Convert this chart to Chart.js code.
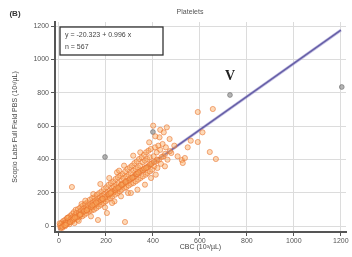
<!DOCTYPE html>
<html>
<head>
<meta charset="utf-8">
<script src="https://cdn.jsdelivr.net/npm/chart.js@4.4.1/dist/chart.umd.min.js"></script>
<style>
  html, body { margin: 0; padding: 0; background: #fff; }
  #wrap { width: 352px; height: 257px; position: relative; }
</style>
</head>
<body>
<div id="wrap"><canvas id="chart"></canvas></div>
<script>
const chartTitle = 'Platelets';
const panelLabel = '(B)';
const xTitle = 'CBC (10³/µL)';
const yTitle = 'Scopio Labs Full Field PBS (10³/µL)';
const fitText = ['y = -20.323 + 0.996 x', 'n = 567'];
const tickValues = [0, 200, 400, 600, 800, 1000, 1200];

// regression line end points
const fitX = [0, 1200];
const fitY = [-20.3, 1174.9];

// orange scatter (CBC, PBS)
const cbcValues = [
  4, 9, 11, 13, 17, 19, 21, 24, 27, 29, 31, 34, 36, 39, 41, 43, 46, 49, 51, 14, 26, 37, 44, 3, 7,
  53, 56, 57, 61, 63, 64, 69, 71, 73, 74, 79, 81, 83, 86, 87, 91, 93, 94, 99, 101, 55, 66, 84, 96,
  103, 104, 109, 111, 113, 116, 117, 121, 123, 124, 129, 131, 133, 134, 139, 141, 143, 144, 149, 151, 112, 136, 146,
  153, 154, 159, 161, 163, 164, 166, 169, 171, 173, 174, 179, 181, 183, 184, 189, 191, 193, 194, 199, 201, 204, 176, 196,
  203, 206, 207, 211, 213, 216, 217, 221, 223, 226, 227, 231, 233, 234, 239, 241, 243, 244, 249, 251, 214, 236, 247, 226,
  253, 254, 259, 261, 263, 266, 267, 271, 273, 274, 279, 282, 281, 284, 286, 287, 291, 293, 296, 297, 302, 264, 277, 294, 256,
  303, 306, 307, 311, 313, 316, 317, 321, 323, 326, 327, 331, 333, 336, 337, 341, 343, 346, 347, 352, 316, 334, 346, 306,
  353, 356, 357, 362, 364, 366, 369, 371, 373, 376, 377, 381, 383, 386, 387, 391, 396, 397, 366, 384, 392,
  403, 406, 409, 413, 416, 419, 423, 426, 431, 434, 441, 444, 451, 428, 412, 431, 446, 410, 459, 401,
  455, 462, 471, 478, 491, 505, 523, 527, 536, 548, 561, 591, 655, 591, 642, 668, 611,
  15, 23, 33, 47, 58, 63, 77, 88, 93, 107, 118, 123, 137, 148, 153, 167, 178, 183, 197, 208, 213, 227, 238,
  243, 257, 268, 273, 287, 298, 303, 317, 328, 333, 347, 358, 363, 377, 388, 393, 418, 437, 452, 472,
  28, 68, 118, 158, 186, 222, 252, 283, 312, 338, 371, 405, 89, 142, 219, 266
];
const pbsValues = [
  3, 14, -6, 22, 7, 31, 6, 17, 37, 9, 24, 47, 13, 32, 53, 22, 36, 62, 27, -11, -1, 49, 11, 16, -12,
  47, 72, 28, 57, 83, 41, 64, 97, 48, 77, 38, 102, 63, 82, 53, 112, 68, 92, 58, 122, 234, 18, 31, 132,
  83, 102, 68, 133, 93, 112, 78, 142, 98, 122, 88, 157, 103, 132, 93, 167, 113, 142, 98, 172, 152, 58, 192,
  123, 152, 108, 187, 133, 162, 36, 118, 197, 143, 172, 128, 207, 153, 182, 138, 222, 163, 192, 148, 232, 78, 252, 112,
  173, 202, 158, 247, 183, 212, 168, 257, 193, 227, 178, 267, 203, 237, 188, 282, 213, 247, 198, 292, 288, 148, 322, 138,
  223, 257, 208, 302, 238, 272, 218, 312, 248, 287, 228, 327, 24, 258, 297, 233, 342, 268, 307, 243, 352, 178, 362, 198, 332,
  278, 317, 253, 362, 288, 332, 258, 377, 298, 342, 268, 387, 313, 352, 278, 402, 323, 362, 288, 412, 422, 218, 442, 198,
  333, 382, 298, 427, 343, 392, 308, 442, 353, 402, 318, 452, 363, 412, 328, 462, 378, 338, 248, 502, 288,
  418, 358, 472, 388, 442, 348, 482, 398, 457, 373, 492, 418, 358, 532, 308, 577, 562, 538, 592, 602,
  472, 398, 522, 438, 482, 418, 396, 378, 408, 472, 512, 684, 702, 504, 444, 402, 562,
  -4, 4, 16, 24, 37, 45, 55, 70, 71, 89, 96, 104, 115, 130, 131, 148, 156, 164, 175, 190, 191, 208, 215,
  225, 234, 251, 252, 269, 275, 285, 294, 311, 312, 330, 335, 345, 354, 371, 372, 398, 414, 433, 449,
  6, 51, 94, 140, 163, 203, 230, 264, 290, 321, 348, 385, 66, 124, 197, 247
];

// grey outliers
const outlierX = [728, 1204, 196, 400];
const outlierY = [786, 834, 414, 564];
const markedPoint = { x: 728, y: 786, label: 'V' };

const fontFamily = '"Liberation Sans", Arial, sans-serif';

function toPoints(xs, ys) {
  return xs.map(function (x, i) { return { x: x, y: ys[i] }; });
}

const overlayPlugin = {
  id: 'overlay',
  afterDraw: function (chart) {
    const ctx = chart.ctx;
    const area = chart.chartArea;
    ctx.save();
    ctx.fillStyle = '#333';
    ctx.font = 'bold 8px ' + fontFamily;
    ctx.textAlign = 'center';
    ctx.textBaseline = 'middle';
    ctx.fillText(panelLabel, 15, 14);
    ctx.font = '7px ' + fontFamily;
    ctx.fillStyle = '#555';
    ctx.fillText(chartTitle, 190, 12);
    // equation box
    ctx.strokeStyle = '#333';
    ctx.lineWidth = 1.3;
    ctx.fillStyle = '#fff';
    ctx.fillRect(area.left + 5, area.top + 5, 103, 28);
    ctx.strokeRect(area.left + 5, area.top + 5, 103, 28);
    ctx.fillStyle = '#444';
    ctx.textAlign = 'left';
    ctx.font = '7px ' + fontFamily;
    ctx.fillText(fitText[0], area.left + 10, area.top + 13);
    ctx.fillText(fitText[1], area.left + 10, area.top + 25);
    // marked point label
    const px = chart.scales.x.getPixelForValue(markedPoint.x);
    const py = chart.scales.y.getPixelForValue(markedPoint.y);
    ctx.fillStyle = '#222';
    ctx.textAlign = 'center';
    ctx.font = 'bold 14px "Liberation Serif", "DejaVu Serif", serif';
    ctx.fillText(markedPoint.label, px, py - 19);
    ctx.restore();
  }
};

const ctx = document.getElementById('chart').getContext('2d');
const chart = new Chart(ctx, {
  type: 'scatter',
  data: {
    datasets: [
      {
        label: 'Samples',
        data: toPoints(cbcValues, pbsValues),
        pointRadius: 2.6,
        pointBackgroundColor: 'rgba(250,170,95,0.45)',
        pointBorderColor: 'rgba(232,110,40,0.7)',
        pointBorderWidth: 0.8
      },
      {
        label: 'Outliers',
        data: toPoints(outlierX, outlierY),
        pointRadius: 2.4,
        pointBackgroundColor: 'rgba(130,130,130,0.6)',
        pointBorderColor: 'rgba(110,110,110,0.8)',
        pointBorderWidth: 0.8
      },
      {
        type: 'line',
        label: 'Fit halo',
        data: toPoints(fitX, fitY),
        borderColor: 'rgba(150,140,205,0.55)',
        borderWidth: 3,
        pointRadius: 0,
        fill: false
      },
      {
        type: 'line',
        label: 'Fit',
        data: toPoints(fitX, fitY),
        borderColor: '#2e2a78',
        borderWidth: 1.6,
        pointRadius: 0,
        fill: false
      }
    ]
  },
  options: {
    responsive: true,
    maintainAspectRatio: false,
    animation: false,
    layout: { padding: { left: 0, top: 22, right: 6, bottom: 0 } },
    plugins: {
      legend: { display: false },
      tooltip: { enabled: false }
    },
    scales: {
      x: {
        type: 'linear',
        min: -17,
        max: 1222,
        afterBuildTicks: function (s) { s.ticks = tickValues.map(function (v) { return { value: v }; }); },
        afterFit: function (s) { s.height = 25; },
        border: { color: '#555', width: 2 },
        grid: { color: '#dcdcdc', lineWidth: 1, tickLength: 4, tickColor: '#555' },
        ticks: { color: '#555', font: { family: fontFamily, size: 7 }, padding: 1, maxRotation: 0,
          callback: function (v) { return String(v); } },
        title: { display: true, text: xTitle, color: '#444', font: { family: fontFamily, size: 7 }, padding: { top: 0, bottom: 6 } }
      },
      y: {
        type: 'linear',
        min: -36,
        max: 1224,
        afterBuildTicks: function (s) { s.ticks = tickValues.map(function (v) { return { value: v }; }); },
        afterFit: function (s) { s.width = 55; },
        border: { color: '#555', width: 2 },
        grid: { color: '#dcdcdc', lineWidth: 1, tickLength: 4, tickColor: '#555' },
        ticks: { color: '#555', font: { family: fontFamily, size: 7 }, padding: 2,
          callback: function (v) { return String(v); } },
        title: { display: true, text: yTitle, color: '#444', font: { family: fontFamily, size: 7 }, padding: { top: 11, bottom: 0 } }
      }
    }
  },
  plugins: [overlayPlugin]
});
</script>
</body>
</html>
